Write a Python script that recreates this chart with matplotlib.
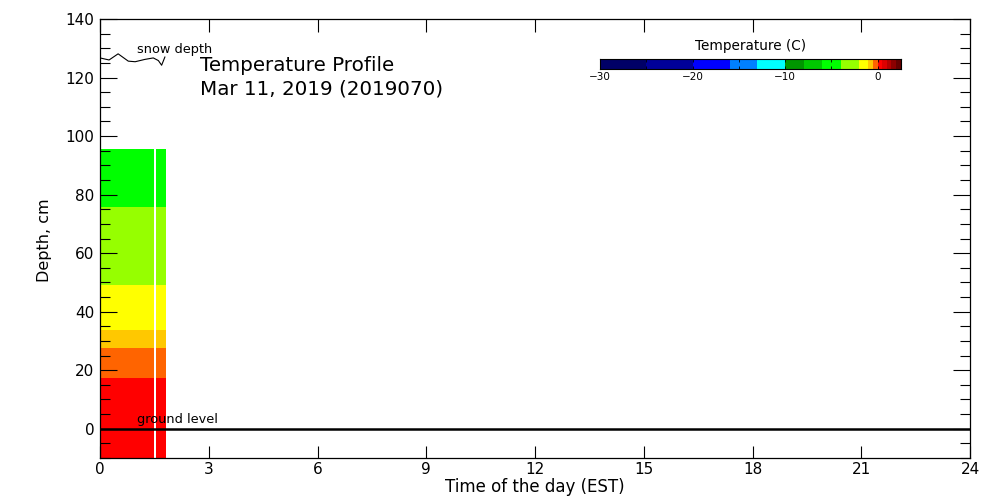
import numpy as np
import matplotlib.pyplot as plt
from matplotlib.colors import ListedColormap, BoundaryNorm

# colour scale of the profile plot
levels = [-30, -25, -20, -16, -13, -10, -8, -6, -4, -2, -1, -0.5, 0, 0.5, 1, 1.5, 2, 2.5]
colors = ['#000066', '#000099', '#0000ff', '#0080ff', '#00ffff', '#009600',
          '#00c800', '#00ff00', '#96ff00', '#ffff00', '#ffc800', '#ff6400',
          '#ff0000', '#dc0000', '#b40000', '#8c0000', '#640000']

# measured columns (time edges, hours) and layers (depth edges, cm)
time_edges = [0, 1.5, 1.55, 1.83]
depth_edges = [-10, 17.5, 27.5, 33.8, 49.2, 75.6, 95.5]
layer_temp = [0.2, -0.2, -0.7, -1.5, -3.0, -5.0]  # bottom to top

# snow depth trace
snow_t = [0, 0.25, 0.50, 0.78, 0.97, 1.24, 1.47, 1.61, 1.70, 1.79]
snow_d = [126.7, 126.0, 128.1, 125.6, 125.4, 126.2, 126.7, 125.8, 124.2, 127.0]

cmap = ListedColormap(colors)
norm = BoundaryNorm(levels, cmap.N)

fig = plt.figure(figsize=(10, 5), dpi=100)
ax = fig.add_axes([0.1, 0.084, 0.87, 0.878])

temp = np.array([layer_temp, layer_temp, layer_temp]).T
temp = np.ma.masked_array(temp, mask=np.zeros_like(temp, dtype=bool))
temp.mask[:, 1] = True
ax.pcolormesh(time_edges, depth_edges, temp, cmap=cmap, norm=norm,
              edgecolors='face', linewidth=0, antialiased=False)

ax.axhline(0, color='black', lw=1.8)
ax.plot(snow_t, snow_d, color='black', lw=0.8)

ax.set_xlim(0, 24)
ax.set_ylim(-10, 140)
ax.set_xticks(np.arange(0, 25, 3))
ax.set_yticks(np.arange(0, 141, 20))
ax.set_yticks(np.arange(-10, 141, 5), minor=True)
ax.tick_params(axis='y', which='major', direction='in', length=12, width=0.8,
               left=True, right=True, labelsize=11, pad=4)
ax.tick_params(axis='y', which='minor', direction='in', length=7, width=0.8,
               left=True, right=True)
ax.tick_params(axis='x', which='major', direction='in', length=9, width=0.8,
               bottom=True, top=True, labelsize=11, pad=3)
for s in ax.spines.values():
    s.set_linewidth(0.9)

ax.text(1.01, 129.7, 'snow depth', fontsize=9.3, va='center')
ax.text(2.76, 124.2, 'Temperature Profile', fontsize=14.3, va='center')
ax.text(2.76, 116, 'Mar 11, 2019 (2019070)', fontsize=14.3, va='center')
ax.text(1.01, 3.0, 'ground level', fontsize=9.3, va='center')

fig.text(0.045, 0.52, 'Depth, cm', rotation=90, ha='center', va='center', fontsize=11.5)
fig.text(0.535, 0.027, 'Time of the day (EST)', ha='center', va='center', fontsize=12)

# colour bar
cax = fig.add_axes([0.6, 0.8614, 0.3007, 0.02])
cax.pcolormesh(levels, [0, 1], np.array([levels[:-1]]) + 0.01, cmap=cmap, norm=norm,
               edgecolors='face', linewidth=0, antialiased=False)
cax.set_xlim(levels[0], levels[-1])
cax.set_ylim(0, 1)
cax.set_yticks([])
cax.set_xticks([-30, -20, -10, 0])
cax.set_xticklabels(['\u221230', '\u221220', '\u221210', '0'])
cax.set_xticks([-25, -15, -5], minor=True)
cax.tick_params(axis='x', which='both', direction='in', length=2, width=0.6,
                top=True, labelsize=7.5, pad=2)
cax.set_title('Temperature (C)', fontsize=9.8, pad=7)

fig.savefig('out.png')
